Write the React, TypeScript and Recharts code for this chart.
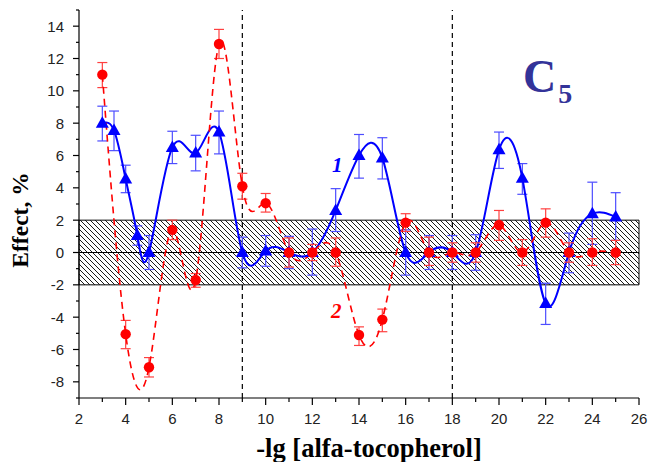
import React from 'react';
import {
  ComposedChart,
  Line,
  XAxis,
  YAxis,
  ErrorBar,
  ReferenceLine,
  ReferenceArea
} from 'recharts';

// curve 1 (blue triangles)
const blueX = [3, 3.5, 4, 4.5, 5, 6, 7, 8, 9, 10, 11, 12, 13, 14, 15, 16, 17, 18, 19, 20, 21, 22, 23, 24, 25];
const blueY = [8.0, 7.55, 4.55, 1.05, 0, 6.5, 6.15, 7.45, 0, 0.1, 0, 0, 2.6, 6.0, 5.85, 0, 0, 0, 0, 6.35, 4.6, -3.15, 0, 2.4, 2.2];
const blueErrUp = [1.05, 1.2, 0.85, 0.6, 1.05, 1.0, 1.1, 1.3, 0.95, 0.95, 1.0, 1.45, 1.35, 1.3, 1.25, 1.4, 1.05, 1.05, 1.1, 1.1, 0.9, 1.25, 1.2, 1.95, 1.5];
const blueErrDown = [1.1, 1.25, 0.85, 0.6, 1.05, 1.0, 1.1, 1.35, 0.95, 0.95, 1.0, 1.4, 1.3, 1.4, 1.3, 1.4, 1.05, 1.05, 1.1, 1.15, 1.0, 1.3, 1.25, 1.9, 1.45];

// curve 2 (red circles)
const redX = [3, 4, 5, 6, 7, 8, 9, 10, 11, 12, 13, 14, 15, 16, 17, 18, 19, 20, 21, 22, 23, 24, 25];
const redY = [11.0, -5.05, -7.1, 1.4, -1.7, 12.9, 4.1, 3.05, 0, 0, 0, -5.1, -4.15, 1.85, 0, 0, 0, 1.7, 0, 1.85, 0, 0, 0];
const redErrUp = [0.75, 0.85, 0.6, 0.6, 0.4, 0.9, 0.8, 0.6, 0.9, 0.5, 0.9, 0.5, 0.65, 0.55, 0.95, 0.6, 0.6, 0.9, 0.8, 0.85, 0.6, 0.85, 0.75];
const redErrDown = [0.8, 0.9, 0.6, 0.6, 0.45, 0.9, 0.8, 0.55, 0.9, 0.5, 0.85, 0.65, 0.75, 0.55, 0.8, 0.6, 0.6, 0.95, 0.8, 0.9, 0.6, 0.8, 0.75];

const xTicks = [2, 3, 4, 5, 6, 7, 8, 9, 10, 11, 12, 13, 14, 15, 16, 17, 18, 19, 20, 21, 22, 23, 24, 25, 26];
const yTicks = [-9, -8, -7, -6, -5, -4, -3, -2, -1, 0, 1, 2, 3, 4, 5, 6, 7, 8, 9, 10, 11, 12, 13, 14, 15];
const dividers = [9, 18];

const blueData = blueX.map((x, i) => ({ x, y: blueY[i], err: [blueErrDown[i], blueErrUp[i]] }));
const redData = redX.map((x, i) => ({ x, y: redY[i], err: [redErrDown[i], redErrUp[i]] }));

const tickFont = '"Liberation Sans", Arial, sans-serif';
const titleFont = '"Liberation Serif", "Times New Roman", serif';

const XTick = ({ x, y, payload }: any) => {
  const major = payload.value % 2 === 0;
  return (
    <g>
      <line x1={x} y1={y} x2={x} y2={y + (major ? 7 : 4)} stroke="#000" strokeWidth={1.2} />
      {major && (
        <text x={x} y={y + 26} textAnchor="middle" fontSize={15} fontFamily={tickFont} fill="#222">
          {payload.value}
        </text>
      )}
    </g>
  );
};

const YTick = ({ x, y, payload }: any) => {
  const major = payload.value % 2 === 0;
  return (
    <g>
      <line x1={x} y1={y} x2={x - (major ? 6 : 3)} y2={y} stroke="#000" strokeWidth={1.2} />
      {major && (
        <text x={x - 15} y={y + 5.5} textAnchor="end" fontSize={15} fontFamily={tickFont} fill="#222">
          {payload.value}
        </text>
      )}
    </g>
  );
};

const Triangle = (props: any) => {
  const { cx, cy } = props;
  if (cx == null || cy == null) return <g />;
  return <polygon points={`${cx},${cy - 7} ${cx - 6.5},${cy + 4.5} ${cx + 6.5},${cy + 4.5}`} fill="#0000ff" />;
};

const Circle = (props: any) => {
  const { cx, cy } = props;
  if (cx == null || cy == null) return <g />;
  return <circle cx={cx} cy={cy} r={5.2} fill="#ff0000" />;
};

export default function App() {
  return (
    <div style={{ position: 'absolute', left: 0, top: 0, width: 650, height: 462, background: '#fff' }}>
      <ComposedChart width={650} height={462} margin={{ top: 10, right: 11, bottom: 0, left: 0 }}>
        <defs>
          <pattern id="hatch" width="5" height="5" patternUnits="userSpaceOnUse">
            <path d="M0,0 L5,5 M-1,4 L1,6 M4,-1 L6,1" stroke="#000" strokeWidth={0.9} />
          </pattern>
        </defs>
        <XAxis
          type="number"
          dataKey="x"
          domain={[2, 26]}
          ticks={xTicks}
          interval={0}
          allowDataOverflow
          height={64}
          tickSize={0}
          tickMargin={0}
          tick={<XTick />}
          axisLine={{ stroke: '#000', strokeWidth: 1.2 }}
        />
        <YAxis
          type="number"
          domain={[-9, 15]}
          ticks={yTicks}
          interval={0}
          allowDataOverflow
          width={79}
          tickSize={0}
          tickMargin={0}
          tick={<YTick />}
          axisLine={{ stroke: '#000', strokeWidth: 1.2 }}
        />
        <ReferenceArea x1={2} x2={26} y1={-2} y2={2} fill="url(#hatch)" fillOpacity={1} stroke="#000" strokeWidth={1} />
        <ReferenceLine y={0} stroke="#000" strokeWidth={1.2} />
        {dividers.map((d) => (
          <ReferenceLine key={d} x={d} stroke="#000" strokeWidth={1.2} strokeDasharray="5 4" />
        ))}
        <Line
          data={blueData}
          dataKey="y"
          type="natural"
          stroke="#0000ff"
          strokeWidth={2}
          dot={<Triangle />}
          activeDot={false}
          isAnimationActive={false}
        >
          <ErrorBar dataKey="err" width={5} stroke="#4d4dff" strokeWidth={1.2} direction="y" />
        </Line>
        <Line
          data={redData}
          dataKey="y"
          type="natural"
          stroke="#ff0000"
          strokeWidth={1.6}
          strokeDasharray="7 5"
          dot={<Circle />}
          activeDot={false}
          isAnimationActive={false}
        >
          <ErrorBar dataKey="err" width={5} stroke="#ff4040" strokeWidth={1.2} direction="y" />
        </Line>
      </ComposedChart>
      <svg width={650} height={462} style={{ position: 'absolute', left: 0, top: 0, pointerEvents: 'none' }}>
        <text x={369} y={457} textAnchor="middle" fontSize={26.5} fontWeight="bold" fontFamily={titleFont} fill="#000">
          -lg [alfa-tocopherol]
        </text>
        <text
          transform="translate(28,220) rotate(-90)"
          textAnchor="middle"
          fontSize={23.5}
          fontWeight="bold"
          fontFamily={titleFont}
          fill="#000"
        >
          Effect, %
        </text>
        <text x={523} y={92} fontSize={46} fontWeight="bold" fontFamily={titleFont} fill="#333399">
          C<tspan fontSize={28} dx={2} dy={11}>5</tspan>
        </text>
        <text x={332} y={172} fontSize={21} fontWeight="bold" fontStyle="italic" fontFamily={titleFont} fill="#0000ff">
          1
        </text>
        <text x={331} y={318} fontSize={21} fontWeight="bold" fontStyle="italic" fontFamily={titleFont} fill="#ff0000">
          2
        </text>
      </svg>
    </div>
  );
}
